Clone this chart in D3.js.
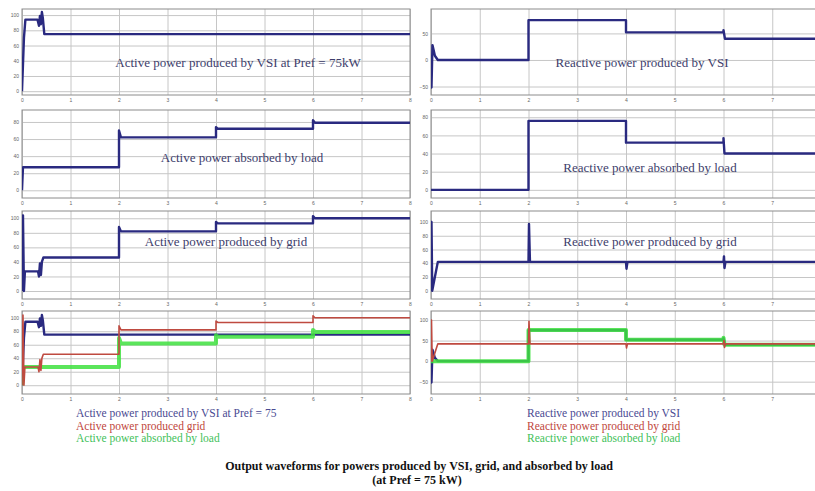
<!DOCTYPE html>
<html>
<head>
<meta charset="utf-8">
<script src="https://cdn.jsdelivr.net/npm/d3@7"></script>
<style>
  body { margin: 0; background: #fff; }
  svg { display: block; }
</style>
</head>
<body>
<script>
  // time axis (same for every panel)
  const timeTicks = [0, 1, 2, 3, 4, 5, 6, 7, 8];

  // active power produced by VSI
  const tPvsi = [0, 0.04, 0.07, 0.32, 0.35, 0.37, 0.39, 0.41, 0.43, 0.46, 8];
  const pVsi = [0, 70, 94, 94, 86, 99, 88, 104, 96, 75, 75];

  // active power absorbed by load
  const tPload = [0, 0.02, 2, 2, 2.04, 4, 4, 4.04, 6, 6, 6.04, 8];
  const pLoad = [0, 27, 27, 70, 62, 62, 74, 72, 72, 82, 79, 79];

  // active power produced by grid
  const tPgrid = [0, 0.02, 0.04, 0.06, 0.33, 0.35, 0.37, 0.39, 0.41, 0.44, 2, 2, 2.04, 4, 4, 4.04, 6, 6, 6.04, 8];
  const pGrid = [0, 104, 0, 27, 27, 20, 38, 22, 40, 46, 46, 88, 82, 82, 95, 93, 93, 103, 100, 100];

  // reactive power produced by VSI
  const tQvsi = [0, 0.01, 0.03, 0.08, 0.14, 2, 2, 4, 4, 6, 6, 6.03, 8];
  const qVsi = [0, -52, 28, 8, 0, 0, 75, 75, 52, 52, 56, 40, 40];

  // reactive power absorbed by load
  const tQload = [0, 2, 2, 4, 4, 6, 6, 6.02, 8];
  const qLoad = [0, 0, 76, 76, 52, 52, 57, 40, 40];

  // reactive power produced by grid
  const tQgrid = [0, 0.01, 0.025, 0.14, 2, 2.01, 2.03, 4, 4.01, 4.03, 6, 6.01, 6.02, 6.04, 8];
  const qGrid = [0, 100, 0, 42, 42, 97, 42, 42, 32, 42, 42, 50, 33, 42, 42];

  const activeTicks = [0, 20, 40, 60, 80, 100];
  const loadTicks = [0, 20, 40, 60, 80];
  const vsiQTicks = [-50, 0, 50];
  const mixQTicks = [-50, 0, 50, 100];

  const legendActive = ['Active power produced by VSI at Pref = 75', 'Active power produced grid', 'Active power absorbed by load'];
  const legendReactive = ['Reactive power produced by VSI', 'Reactive power produced by grid', 'Reactive power absorbed by load'];

  const navy = '#2a2a80';
  const red = '#bf4a40';
  const green = '#3ee03e';

  const width = 815;
  const height = 491;

  const columns = [{ x0: 22, x1: 410 }, { x0: 431, x1: 821 }];
  const rows = [{ y0: 9, y1: 95 }, { y0: 110, y1: 198 }, { y0: 211, y1: 299 }, { y0: 311, y1: 394 }];

  const one = (t, v) => [{ t, v, color: navy, w: 2.4 }];

  const panels = [
    { col: 0, row: 0, domain: [-5, 108], ticks: activeTicks, series: one(tPvsi, pVsi),
      label: 'Active power produced by VSI at Pref = 75kW', lx: 238, ly: 67 },
    { col: 1, row: 0, domain: [-66, 96], ticks: vsiQTicks, series: one(tQvsi, qVsi),
      label: 'Reactive power produced by VSI', lx: 642, ly: 67 },
    { col: 0, row: 1, domain: [-9, 94], ticks: loadTicks, series: one(tPload, pLoad),
      label: 'Active power absorbed by load', lx: 242, ly: 162 },
    { col: 1, row: 1, domain: [-9, 88], ticks: loadTicks, series: one(tQload, qLoad),
      label: 'Reactive power absorbed by load', lx: 650, ly: 172 },
    { col: 0, row: 2, domain: [-11, 110], ticks: activeTicks, series: one(tPgrid, pGrid),
      label: 'Active power produced by grid', lx: 226, ly: 246 },
    { col: 1, row: 2, domain: [-12, 116], ticks: activeTicks, series: one(tQgrid, qGrid),
      label: 'Reactive power produced by grid', lx: 650, ly: 246 },
    { col: 0, row: 3, domain: [-13, 110], ticks: activeTicks,
      series: [
        { t: tPvsi, v: pVsi, color: navy, w: 2.4 },
        { t: tPload, v: pLoad, color: green, w: 4, o: 0.85 },
        { t: tPgrid, v: pGrid, color: red, w: 1.6 },
      ] },
    { col: 1, row: 3, domain: [-80, 122], ticks: mixQTicks,
      series: [
        { t: tQvsi, v: qVsi, color: navy, w: 2.4 },
        { t: tQload, v: qLoad, color: green, w: 4, o: 0.85 },
        { t: tQgrid, v: qGrid, color: red, w: 1.6 },
      ] },
  ];

  const svg = d3.select('body')
    .append('svg')
    .attr('width', width)
    .attr('height', height)
    .style('font-family', '"Liberation Serif", "Times New Roman", serif');

  svg.append('rect').attr('width', width).attr('height', height).attr('fill', '#fff');

  const defs = svg.append('defs');

  panels.forEach((p, i) => {
    const c = columns[p.col];
    const r = rows[p.row];

    const xScale = d3.scaleLinear().domain([0, 8]).range([c.x0, c.x1]);
    const yScale = d3.scaleLinear().domain(p.domain).range([r.y1, r.y0]);

    // only label the time ticks that fit inside the picture
    const visibleTicks = timeTicks.filter((t) => xScale(t) <= width - 4);

    const g = svg.append('g').attr('class', 'panel');

    defs.append('clipPath')
      .attr('id', `clip-${i}`)
      .append('rect')
      .attr('x', c.x0)
      .attr('y', r.y0)
      .attr('width', c.x1 - c.x0)
      .attr('height', r.y1 - r.y0);

    // vertical grid + bottom tick labels
    g.append('g')
      .attr('transform', `translate(0, ${r.y1})`)
      .call(d3.axisBottom(xScale).tickValues(visibleTicks).tickSize(-(r.y1 - r.y0)).tickPadding(3).tickFormat(d3.format('d')))
      .call((ax) => ax.select('.domain').remove())
      .call((ax) => ax.selectAll('line').attr('stroke', '#c6c6c6'))
      .call((ax) => ax.selectAll('text').attr('font-size', 5).attr('fill', '#666'));

    // horizontal grid + left tick labels
    g.append('g')
      .attr('transform', `translate(${c.x0}, 0)`)
      .call(d3.axisLeft(yScale).tickValues(p.ticks).tickSize(-(c.x1 - c.x0)).tickPadding(3).tickFormat(d3.format('d')))
      .call((ax) => ax.select('.domain').remove())
      .call((ax) => ax.selectAll('line').attr('stroke', '#c6c6c6'))
      .call((ax) => ax.selectAll('text').attr('font-size', 5).attr('fill', '#666'));

    g.append('rect')
      .attr('x', c.x0)
      .attr('y', r.y0)
      .attr('width', c.x1 - c.x0)
      .attr('height', r.y1 - r.y0)
      .attr('fill', 'none')
      .attr('stroke', '#8c8c8c');

    if (p.label) {
      g.append('text')
        .attr('x', p.lx)
        .attr('y', p.ly)
        .attr('text-anchor', 'middle')
        .attr('font-size', 13)
        .attr('fill', '#3d3d6b')
        .text(p.label);
    }

    const lines = g.append('g').attr('clip-path', `url(#clip-${i})`);

    p.series.forEach((s) => {
      const line = d3.line()
        .x((d) => xScale(s.t[d]))
        .y((d) => yScale(s.v[d]));

      lines.append('path')
        .attr('d', line(d3.range(s.t.length)))
        .attr('fill', 'none')
        .attr('stroke', s.color)
        .attr('stroke-width', s.w)
        .attr('stroke-opacity', s.o || 1)
        .attr('stroke-linejoin', 'round');
    });
  });

  // legends under the bottom panels
  const legendColors = ['#4a4a92', '#c0463c', '#3fbf5a'];

  const drawLegend = (items, x) => {
    svg.append('g')
      .selectAll('text')
      .data(items)
      .join('text')
      .attr('x', x)
      .attr('y', (d, i) => 417 + i * 12.5)
      .attr('font-size', 11.5)
      .attr('fill', (d, i) => legendColors[i])
      .text((d) => d);
  };

  drawLegend(legendActive, 76);
  drawLegend(legendReactive, 527);

  // caption
  svg.append('text')
    .attr('x', 419)
    .attr('y', 470)
    .attr('text-anchor', 'middle')
    .attr('font-size', 12)
    .attr('font-weight', 'bold')
    .attr('fill', '#111')
    .text('Output waveforms for powers produced by VSI, grid, and absorbed by load');

  svg.append('text')
    .attr('x', 417)
    .attr('y', 484)
    .attr('text-anchor', 'middle')
    .attr('font-size', 12)
    .attr('font-weight', 'bold')
    .attr('fill', '#111')
    .text('(at Pref = 75 kW)');
</script>
</body>
</html>
